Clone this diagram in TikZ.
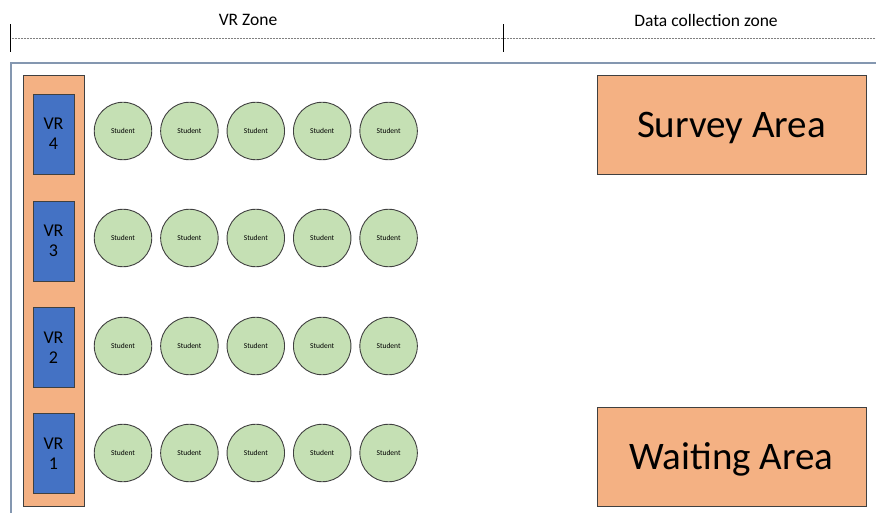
\documentclass[tikz,border=0pt]{standalone}
\usepackage{fontspec}
\setmainfont{Carlito}
\usetikzlibrary{positioning}
\definecolor{vrblue}{HTML}{4472C4}
\definecolor{areaorange}{HTML}{F4B183}
\definecolor{seatgreen}{HTML}{C5E0B4}
\definecolor{framegray}{HTML}{8497B0}
\definecolor{edgegray}{HTML}{404040}

\tikzset{
  area/.style={draw=edgegray, fill=areaorange, line width=0.8pt, inner sep=0pt},
  headset/.style={draw=edgegray, fill=vrblue, line width=0.8pt, minimum width=41pt,
    minimum height=80pt, inner sep=0pt, align=center, text depth=0pt,
    font=\fontsize{18}{20}\selectfont},
  seat/.style={circle, draw=edgegray, fill=seatgreen, line width=0.9pt, minimum size=57.5pt,
    inner sep=0pt, font=\fontsize{7.5}{8}\selectfont},
  zone/.style={font=\fontsize{17.5}{20}\selectfont}
}

\begin{document}
\begin{tikzpicture}[x=1pt,y=-1pt]
\useasboundingbox (0,0) rectangle (876,513);

% header
\node[zone] (vrzone) at (248,20) {VR Zone};
\node[zone] (datazone) at (706,20) {Data collection zone};
\coordinate (l) at (10,38);
\coordinate (m) at (503,38);
\coordinate (r) at (876,38);
\draw[densely dotted, gray, line width=0.5pt] (l) -- (r);
\draw[line width=0.7pt] ([yshift=-14pt]l) -- ([yshift=14pt]l);
\draw[line width=0.7pt] ([yshift=-14pt]m) -- ([yshift=14pt]m);

% room frame
\coordinate (tr) at (880,63);
\coordinate (tl) at (11,63);
\coordinate (bl) at (11,517);
\draw[framegray, line width=1.3pt] (tr) -- (tl) -- (bl);

% vr column
\node[area, minimum width=61pt, minimum height=431pt] (column) at (53.5,290.5) {};

\foreach \i/\y/\r in {4/134/131, 3/241/238, 2/347.5/346, 1/453.5/453} {
  \node[headset] (vr\i) at (53.5,\y) {VR\\\i};
  \node[seat] (s\i1) at (123,\r) {Student};
  \foreach \j [count=\k from 1] in {2,...,5}
    \node[seat, right=8pt of s\i\k] (s\i\j) {Student};
}

% data collection
\node[area, minimum width=269pt, minimum height=99pt, text depth=0pt,
  font=\fontsize{39}{42}\selectfont] (survey) at (731.5,124.5) {Survey Area};
\node[area, minimum width=269pt, minimum height=99pt, text depth=0pt,
  font=\fontsize{39}{42}\selectfont] (waiting) at (731.5,456.5) {Waiting Area};

\end{tikzpicture}
\end{document}
